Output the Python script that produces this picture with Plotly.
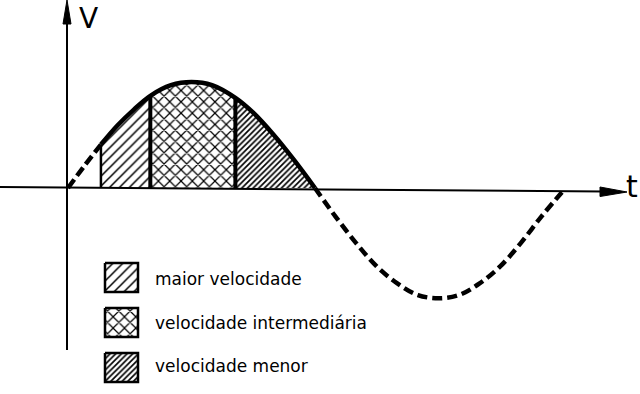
import plotly.graph_objects as go

# ---- data (t in degrees of the cycle, V in units of the amplitude) ----
T_DEG = [0, 12, 24, 36, 48, 60, 75, 90, 105, 122, 135, 150, 165, 180,
         195, 210, 225, 240, 255, 270, 285, 300, 315, 330, 345, 360]
V = [0.0, 0.21, 0.41, 0.59, 0.74, 0.87, 0.97, 1.0, 0.97, 0.85, 0.71, 0.5, 0.26, 0.0,
     -0.27, -0.52, -0.74, -0.9, -1.01, -1.04, -1.01, -0.9, -0.74, -0.52, -0.27, -0.04]
BOUNDS = [24, 60, 122, 180]          # limits of the three shaded bands
LEGEND_LABELS = ["maior velocidade", "velocidade intermediária", "velocidade menor"]
AXIS_LABELS = ["V", "t"]

# ---- styling / layout ----
W, H = 640, 394
X0_PX, Y0_PX = 68, 188          # pixel position of the origin
PX_PER_DEG = 1.372
PX_PER_V = 106.0
PATTERNS = [dict(shape="/", size=7, solidity=0.22),
            dict(shape="x", size=8, solidity=0.28),
            dict(shape="/", size=4, solidity=0.42)]
EDGE_WIDTHS = [2.5, 4, 4]
FONT = "DejaVu Sans"

fig = go.Figure()
idx = {t: i for i, t in enumerate(T_DEG)}

# shaded bands under the curve
for k in range(3):
    a, b = idx[BOUNDS[k]], idx[BOUNDS[k + 1]]
    fig.add_trace(go.Scatter(
        x=T_DEG[a:b + 1], y=V[a:b + 1], mode="lines",
        line=dict(width=0, shape="spline", color="black"),
        fill="tozeroy", fillcolor="white",
        fillpattern=dict(fgcolor="black", bgcolor="white", fillmode="replace", **PATTERNS[k]),
        hoverinfo="skip", showlegend=False))

# vertical band edges
for k in range(3):
    b = BOUNDS[k]
    fig.add_trace(go.Scatter(x=[b, b], y=[0, V[idx[b]]], mode="lines",
                             line=dict(color="black", width=EDGE_WIDTHS[k]),
                             hoverinfo="skip", showlegend=False))

# curve: solid part and dashed parts
s, e = idx[BOUNDS[0]], idx[BOUNDS[-1]]
fig.add_trace(go.Scatter(x=T_DEG[s:e + 1], y=V[s:e + 1], mode="lines",
                         line=dict(color="black", width=4.5, shape="spline"),
                         hoverinfo="skip", showlegend=False))
for seg in (slice(0, s + 1), slice(e, len(T_DEG))):
    fig.add_trace(go.Scatter(x=T_DEG[seg], y=V[seg], mode="lines",
                             line=dict(color="black", width=4.5, shape="spline", dash="10px,5px"),
                             hoverinfo="skip", showlegend=False))

# ---- legend drawn in pixel overlay ----
BOX_X = (105, 138)
BOX_TOP = [263, 308, 353]
BOX_H = 29
TEXT_Y = [279, 323, 366]
for k in range(3):
    y0, y1 = BOX_TOP[k], BOX_TOP[k] + BOX_H
    fig.add_trace(go.Scatter(
        x=[BOX_X[0], BOX_X[1], BOX_X[1], BOX_X[0], BOX_X[0]],
        y=[y0, y0, y1, y1, y0], xaxis="x2", yaxis="y2", mode="lines",
        line=dict(color="black", width=2.5), fill="toself", fillcolor="white",
        fillpattern=dict(fgcolor="black", bgcolor="white", fillmode="replace", **PATTERNS[k]),
        hoverinfo="skip", showlegend=False))
    fig.add_annotation(x=153, y=TEXT_Y[k], xref="x2", yref="y2", text=LEGEND_LABELS[k],
                       showarrow=False, xanchor="left", yanchor="middle",
                       font=dict(family=FONT, size=17, color="black"))

# axis labels
fig.add_annotation(x=77, y=0, xref="x2", yref="y2", text=AXIS_LABELS[0], showarrow=False,
                   xanchor="left", yanchor="top", font=dict(family=FONT, size=28, color="black"))
fig.add_annotation(x=624, y=186, xref="x2", yref="y2", text=AXIS_LABELS[1], showarrow=False,
                   xanchor="left", yanchor="middle", font=dict(family=FONT, size=30, color="black"))

# axes lines and arrowheads (pixel overlay)
shapes = [
    dict(type="line", xref="x2", yref="y2", x0=67, y0=18, x1=67, y1=350,
         line=dict(color="black", width=2)),
    dict(type="path", xref="x2", yref="y2", path="M 67 0 L 63 24 L 71 24 Z",
         fillcolor="black", line=dict(color="black", width=1)),
    dict(type="line", xref="x2", yref="y2", x0=0, y0=187, x1=604, y1=191.5,
         line=dict(color="black", width=2)),
    dict(type="path", xref="x2", yref="y2", path="M 627 192 L 600 187 L 600 196.5 Z",
         fillcolor="black", line=dict(color="black", width=1)),
]

x_lo = -X0_PX / PX_PER_DEG
x_hi = (W - X0_PX) / PX_PER_DEG
y_hi = Y0_PX / PX_PER_V
y_lo = -(H - Y0_PX) / PX_PER_V

fig.update_layout(
    width=W, height=H, margin=dict(l=0, r=0, t=0, b=0),
    paper_bgcolor="white", plot_bgcolor="white", shapes=shapes,
    xaxis=dict(range=[x_lo, x_hi], visible=False, fixedrange=True),
    yaxis=dict(range=[y_lo, y_hi], visible=False, fixedrange=True),
    xaxis2=dict(range=[0, W], overlaying="x", visible=False, fixedrange=True),
    yaxis2=dict(range=[H, 0], overlaying="y", visible=False, fixedrange=True),
    showlegend=False,
)

fig.write_html("out.html")
